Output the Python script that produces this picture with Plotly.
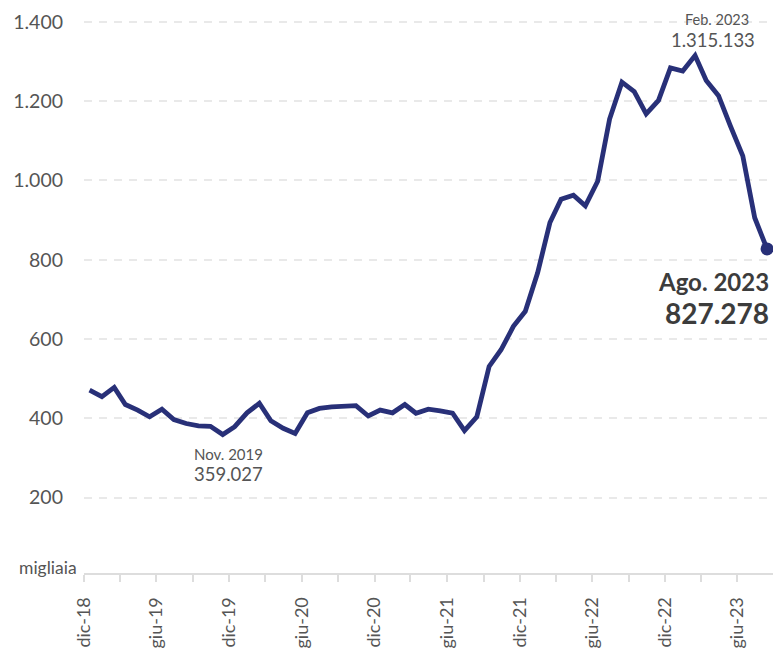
import pandas as pd
import plotly.graph_objects as go

# Monthly series, thousands (dic-2018 .. ago-2023)
months = pd.date_range("2018-12-01", "2023-08-01", freq="MS")
values = [
    471, 455, 478, 435, 421, 404, 423, 397, 387, 381, 380, 359.027,
    379, 414, 438, 394, 375, 362, 414, 425, 429, 429, 432, 406,
    421, 414, 435, 413, 423, 419, 413, 369, 404, 531, 573, 632,
    670, 767, 894, 953, 963, 936, 998, 1155, 1248, 1224, 1168, 1202,
    1284, 1276, 1315.133, 1252, 1214, 1137, 1062, 906, 827.278,
]

# x-axis ticks every quarter, labels every semester
tick_dates = pd.date_range("2018-12-01", "2023-06-01", freq="3MS")
it_months = {6: "giu", 12: "dic"}
tick_text = [f"{it_months[d.month]}-{d.strftime('%y')}" if d.month in it_months else ""
             for d in tick_dates]

y_ticks = [200, 400, 600, 800, 1000, 1200, 1400]

LINE = "#283078"
GREY = "#555555"
FONT = "Lato"

x_dates = months + pd.Timedelta(days=14)

fig = go.Figure()
fig.add_trace(go.Scatter(
    x=x_dates, y=values, mode="lines",
    line=dict(color=LINE, width=4.8, shape="linear"),
    hoverinfo="skip", showlegend=False,
))
fig.add_trace(go.Scatter(
    x=[x_dates[-1]], y=[values[-1]], mode="markers",
    marker=dict(color=LINE, size=13),
    hoverinfo="skip", showlegend=False,
))

def fmt(v):
    return f"{int(round(v * 1000)):,}".replace(",", ".")

i_min = 11
i_max = 50
i_last = len(values) - 1

annotations = [
    # peak
    dict(x=x_dates[i_max], y=values[i_max], text="Feb. 2023", xshift=22, yshift=36,
         font=dict(size=14.5, color=GREY, family=FONT)),
    dict(x=x_dates[i_max], y=values[i_max], text=fmt(values[i_max]), xshift=18, yshift=16,
         font=dict(size=18.5, color=GREY, family=FONT)),
    # minimum
    dict(x=x_dates[i_min], y=values[i_min], text="Nov. 2019", xshift=6, yshift=-19,
         font=dict(size=15, color=GREY, family=FONT)),
    dict(x=x_dates[i_min], y=values[i_min], text=fmt(values[i_min]), xshift=6, yshift=-39,
         font=dict(size=18.5, color=GREY, family=FONT)),
    # last value
    dict(x=x_dates[i_last], y=values[i_last], text="<b>Ago. 2023</b>", xanchor="right",
         xshift=4, yshift=-33, font=dict(size=24, color="#3c3c3c", family=FONT)),
    dict(x=x_dates[i_last], y=values[i_last], text="<b>" + fmt(values[i_last]) + "</b>",
         xanchor="right", xshift=4, yshift=-64, font=dict(size=28, color="#3c3c3c", family=FONT)),
    # unit label
    dict(xref="paper", yref="paper", x=0, y=0, xanchor="right", yanchor="middle",
         xshift=-5, yshift=6, text="migliaia", font=dict(size=17.5, color=GREY, family=FONT)),
]
for a in annotations:
    a.setdefault("xref", "x")
    a.setdefault("yref", "y")
    a.setdefault("showarrow", False)
    a.setdefault("yanchor", "middle")

fig.update_layout(
    width=773, height=649,
    margin=dict(l=84, r=0, t=6, b=76),
    paper_bgcolor="white", plot_bgcolor="white",
    separators=",.",
    font=dict(family=FONT, color=GREY),
    annotations=annotations,
    xaxis=dict(
        type="date",
        range=["2018-12-01", "2023-08-30"],
        tickmode="array", tickvals=tick_dates, ticktext=tick_text,
        tickangle=-90,
        ticks="outside", ticklen=7, tickwidth=2, tickcolor="#dddddd",
        ticklabelstandoff=8,
        showline=True, linecolor="#dddddd", linewidth=2,
        showgrid=False, zeroline=False,
        tickfont=dict(size=18, color=GREY, family=FONT),
    ),
    yaxis=dict(
        range=[10, 1440],
        tickmode="array", tickvals=y_ticks,
        tickformat=",d",
        showgrid=True, gridcolor="#e9e9e9", gridwidth=2, griddash="8px,7px",
        zeroline=False, showline=False, ticks="",
        ticklabelstandoff=20,
        tickfont=dict(size=19.5, color=GREY, family=FONT),
    ),
)

fig.write_html("out.html")
